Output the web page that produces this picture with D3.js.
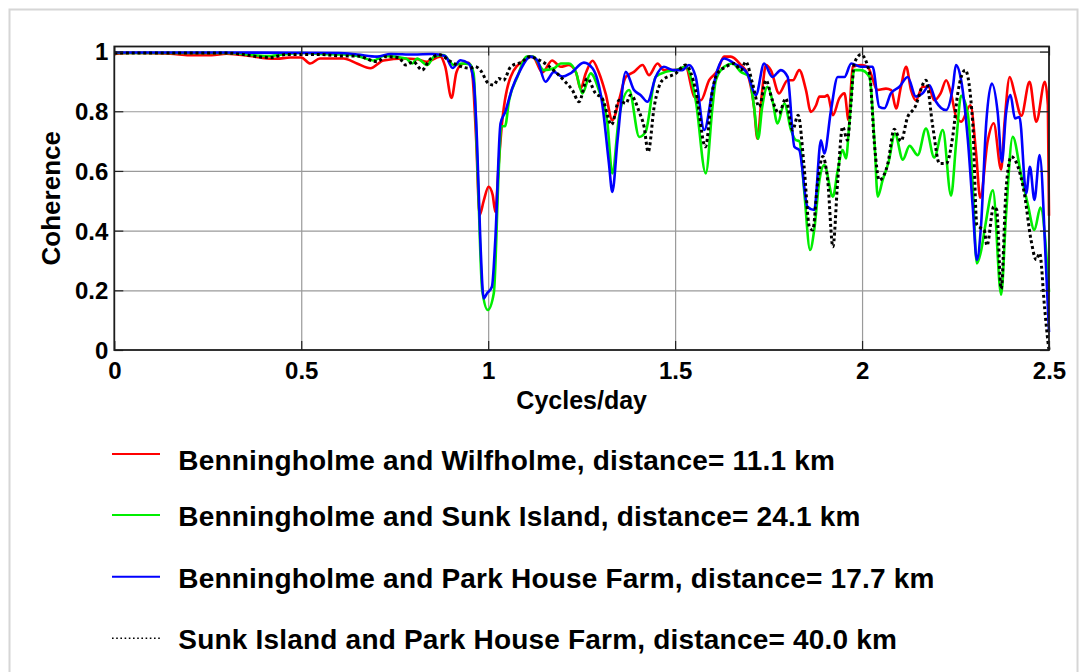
<!DOCTYPE html>
<html>
<head>
<meta charset="utf-8">
<script src="https://cdn.jsdelivr.net/npm/d3@7/dist/d3.min.js"></script>
<style>
  body { margin: 0; background: #fff; }
  svg text { font-family: "Liberation Sans", Arial, Helvetica, sans-serif; font-weight: bold; fill: #000; }
</style>
</head>
<body>
<svg id="chart" width="1087" height="672"></svg>
<script>
// ---- data -------------------------------------------------------------
const xTickValues = [0, 0.5, 1, 1.5, 2, 2.5];
const yTickValues = [0, 0.2, 0.4, 0.6, 0.8, 1];

const seriesLabels = [
  "Benningholme and Wilfholme, distance= 11.1 km",
  "Benningholme and Sunk Island, distance= 24.1 km",
  "Benningholme and Park House Farm, distance= 17.7 km",
  "Sunk Island and Park House Farm, distance= 40.0 km"
];

// Benningholme – Wilfholme
const wilfFreq = [0,0.05,0.15,0.2,0.26,0.3,0.363,0.408,0.435,0.47,0.5,0.524,0.55,0.613,0.649,0.685,0.72,0.774,0.81,0.836,0.872,0.885,0.902,0.915,0.93,0.948,0.957,0.968,0.977,0.988,1.001,1.012,1.019,1.028,1.037,1.06,1.096,1.119,1.145,1.171,1.194,1.216,1.235,1.247,1.261,1.279,1.296,1.314,1.332,1.35,1.368,1.39,1.413,1.43,1.453,1.47,1.502,1.528,1.551,1.569,1.591,1.613,1.631,1.649,1.676,1.693,1.711,1.72,1.733,1.743,1.756,1.778,1.801,1.815,1.832,1.85,1.863,1.877,1.886,1.9,1.908,1.922,1.939,1.953,1.964,1.975,1.997,2.015,2.042,2.064,2.078,2.091,2.104,2.118,2.131,2.144,2.162,2.178,2.193,2.21,2.225,2.238,2.252,2.265,2.29,2.305,2.316,2.336,2.352,2.372,2.381,2.395,2.408,2.426,2.448,2.466,2.489,2.497,2.5];
const wilfCoh  = [0.992,0.995,0.993,0.988,0.988,0.993,0.985,0.977,0.976,0.98,0.98,0.96,0.977,0.977,0.96,0.944,0.97,0.977,0.974,0.966,0.983,0.95,0.845,0.93,0.958,0.962,0.93,0.7,0.452,0.5,0.547,0.52,0.463,0.62,0.759,0.915,0.971,0.983,0.93,0.97,0.949,0.955,0.93,0.876,0.927,0.969,0.93,0.86,0.77,0.837,0.915,0.932,0.955,0.921,0.96,0.938,0.938,0.949,0.849,0.837,0.904,0.935,0.983,0.983,0.955,0.927,0.815,0.708,0.871,0.955,0.938,0.86,0.904,0.904,0.938,0.871,0.798,0.82,0.849,0.849,0.854,0.787,0.843,0.86,0.77,0.949,0.955,0.949,0.871,0.876,0.871,0.809,0.882,0.949,0.871,0.837,0.882,0.882,0.837,0.86,0.904,0.86,0.78,0.765,0.82,0.66,0.51,0.7,0.76,0.605,0.76,0.915,0.86,0.785,0.899,0.765,0.899,0.82,0.45];

// Benningholme – Sunk Island
const sunkFreq = [0,0.3,0.408,0.45,0.5,0.55,0.613,0.65,0.694,0.72,0.78,0.797,0.81,0.837,0.855,0.88,0.908,0.93,0.95,0.961,0.972,0.984,0.999,1.015,1.028,1.035,1.045,1.056,1.078,1.104,1.12,1.149,1.176,1.194,1.216,1.235,1.252,1.274,1.296,1.319,1.332,1.35,1.377,1.404,1.421,1.448,1.475,1.502,1.528,1.555,1.582,1.6,1.609,1.631,1.653,1.676,1.698,1.711,1.722,1.733,1.747,1.76,1.774,1.792,1.81,1.823,1.832,1.845,1.861,1.872,1.886,1.899,1.922,1.935,1.948,1.957,1.966,1.979,1.997,2.02,2.033,2.042,2.055,2.071,2.088,2.109,2.127,2.149,2.171,2.193,2.216,2.238,2.252,2.265,2.283,2.296,2.307,2.318,2.33,2.35,2.372,2.385,2.403,2.425,2.443,2.461,2.477,2.5];
const sunkCoh  = [0.995,0.995,0.985,0.99,0.995,0.992,0.99,0.985,0.97,0.985,0.977,0.96,0.977,0.955,0.983,0.988,0.955,0.96,0.958,0.927,0.592,0.201,0.134,0.19,0.594,0.75,0.75,0.837,0.915,0.983,0.983,0.938,0.944,0.96,0.96,0.93,0.86,0.927,0.871,0.759,0.592,0.781,0.871,0.714,0.731,0.915,0.932,0.938,0.949,0.837,0.592,0.815,0.904,0.949,0.96,0.932,0.915,0.815,0.708,0.815,0.882,0.837,0.759,0.826,0.737,0.703,0.7,0.536,0.335,0.402,0.569,0.62,0.514,0.603,0.67,0.642,0.759,0.938,0.938,0.915,0.703,0.514,0.569,0.63,0.725,0.638,0.684,0.653,0.742,0.645,0.737,0.517,0.7,0.852,0.79,0.55,0.29,0.33,0.42,0.535,0.185,0.45,0.714,0.59,0.49,0.402,0.477,0.195];

// Benningholme – Park House Farm
const parkFreq = [0,0.3,0.6,0.65,0.703,0.74,0.8,0.85,0.885,0.905,0.926,0.948,0.961,0.97,0.979,0.988,0.997,1.01,1.019,1.033,1.046,1.064,1.086,1.113,1.131,1.153,1.176,1.198,1.22,1.256,1.279,1.305,1.323,1.332,1.346,1.368,1.39,1.408,1.426,1.448,1.47,1.493,1.519,1.537,1.555,1.578,1.6,1.613,1.631,1.658,1.693,1.716,1.738,1.76,1.783,1.801,1.819,1.832,1.854,1.872,1.89,1.899,1.917,1.935,1.953,1.971,1.997,2.028,2.046,2.06,2.077,2.1,2.122,2.144,2.162,2.18,2.198,2.225,2.243,2.251,2.265,2.283,2.296,2.307,2.318,2.332,2.347,2.363,2.374,2.385,2.397,2.409,2.421,2.439,2.449,2.461,2.475,2.492,2.5];
const parkCoh  = [0.997,0.997,0.995,0.99,0.983,0.992,0.99,0.992,0.985,0.945,0.971,0.96,0.904,0.703,0.368,0.173,0.19,0.212,0.368,0.759,0.799,0.876,0.938,0.983,0.971,0.899,0.932,0.916,0.927,0.963,0.944,0.826,0.625,0.53,0.703,0.932,0.871,0.854,0.832,0.915,0.949,0.938,0.938,0.955,0.915,0.737,0.871,0.938,0.977,0.96,0.927,0.854,0.96,0.915,0.938,0.915,0.681,0.67,0.48,0.469,0.703,0.659,0.804,0.915,0.915,0.96,0.949,0.949,0.815,0.81,0.86,0.882,0.915,0.849,0.86,0.887,0.832,0.804,0.882,0.955,0.904,0.703,0.48,0.302,0.413,0.759,0.893,0.793,0.63,0.793,0.854,0.776,0.781,0.525,0.614,0.503,0.653,0.279,0.06];

// Sunk Island – Park House Farm
const sunkParkFreq = [0,0.3,0.417,0.46,0.55,0.613,0.65,0.703,0.725,0.76,0.78,0.8,0.823,0.845,0.872,0.895,0.917,0.952,0.965,0.979,1.001,1.015,1.028,1.041,1.06,1.091,1.109,1.131,1.158,1.18,1.202,1.225,1.243,1.265,1.287,1.305,1.33,1.35,1.368,1.381,1.404,1.417,1.428,1.444,1.466,1.502,1.528,1.555,1.581,1.6,1.613,1.636,1.658,1.676,1.689,1.707,1.725,1.743,1.76,1.778,1.796,1.814,1.829,1.845,1.859,1.868,1.881,1.895,1.908,1.922,1.935,1.948,1.961,1.97,1.979,1.997,2.02,2.033,2.046,2.069,2.086,2.104,2.122,2.14,2.171,2.189,2.207,2.225,2.243,2.256,2.276,2.296,2.307,2.316,2.327,2.334,2.352,2.36,2.372,2.385,2.399,2.417,2.434,2.452,2.466,2.475,2.488,2.497,2.5];
const sunkParkCoh  = [0.995,0.995,0.98,0.99,0.99,0.985,0.985,0.966,0.983,0.98,0.955,0.966,0.938,0.975,0.989,0.97,0.955,0.944,0.95,0.938,0.893,0.888,0.91,0.904,0.949,0.966,0.983,0.975,0.955,0.932,0.904,0.871,0.832,0.91,0.86,0.843,0.755,0.837,0.826,0.854,0.798,0.748,0.664,0.815,0.904,0.927,0.955,0.871,0.681,0.871,0.927,0.949,0.96,0.938,0.966,0.893,0.815,0.904,0.837,0.793,0.843,0.737,0.787,0.614,0.413,0.402,0.558,0.648,0.569,0.346,0.569,0.748,0.703,0.82,0.96,0.99,0.927,0.692,0.569,0.625,0.74,0.7,0.781,0.81,0.904,0.75,0.625,0.625,0.72,0.86,0.938,0.76,0.42,0.41,0.4,0.35,0.48,0.47,0.205,0.536,0.648,0.614,0.525,0.368,0.302,0.324,0.145,0.03,0.0];

const seriesFreq = [wilfFreq, sunkFreq, parkFreq, sunkParkFreq];
const seriesCoh  = [wilfCoh, sunkCoh, parkCoh, sunkParkCoh];

// ---- styling ----------------------------------------------------------
const lineStyles = [
  { color: "#ff0000", dash: null },
  { color: "#00ee00", dash: null },
  { color: "#0000ff", dash: null },
  { color: "#000000", dash: "3,2.8" }
];

// ---- layout -----------------------------------------------------------
const svg = d3.select("#chart");
const plot = { left: 114.3, right: 1049, top: 46.5, bottom: 350 };

// outer frame
svg.append("rect")
  .attr("x", 9.5).attr("y", 9.5)
  .attr("width", 1068).attr("height", 720)
  .attr("fill", "#fff").attr("stroke", "#d6d6d6").attr("stroke-width", 2);

const x = d3.scaleLinear().domain([0, 2.5]).range([plot.left, plot.right]);
const y = d3.scaleLinear().domain([0, 1.017]).range([plot.bottom, plot.top]);

// grid lines
const grid = svg.append("g");
grid.append("g")
  .attr("transform", `translate(0,${plot.bottom})`)
  .call(d3.axisBottom(x).tickValues(xTickValues.slice(1, -1)).tickSize(-(plot.bottom - plot.top)).tickFormat(""))
  .call(g => g.select(".domain").remove())
  .call(g => g.selectAll("line").attr("stroke", "#9a9a9a").attr("stroke-width", 1.2));
grid.append("g")
  .attr("transform", `translate(${plot.left},0)`)
  .call(d3.axisLeft(y).tickValues(yTickValues.slice(1)).tickSize(-(plot.right - plot.left)).tickFormat(""))
  .call(g => g.select(".domain").remove())
  .call(g => g.selectAll("line").attr("stroke", "#9a9a9a").attr("stroke-width", 1.2));

// curves
const line = d3.line()
  .x(d => x(d[0]))
  .y(d => y(d[1]))
  .curve(d3.curveMonotoneX);

const curves = svg.append("g");
seriesFreq.forEach((freqs, i) => {
  const pts = freqs.map((f, j) => [f, seriesCoh[i][j]]);
  const st = lineStyles[i];
  curves.append("path")
    .datum(pts)
    .attr("d", line)
    .attr("fill", "none")
    .attr("stroke", st.color)
    .attr("stroke-width", st.dash ? 3 : 2.6)
    .attr("stroke-linejoin", "round")
    .attr("stroke-dasharray", st.dash);
});

// axes with inward ticks
const tickLen = 9;
const fmt = d3.format("~g");
const axB = svg.append("g").attr("transform", `translate(0,${plot.bottom})`)
  .call(d3.axisBottom(x).tickValues(xTickValues).tickSize(-tickLen).tickPadding(13).tickFormat(fmt));
const axT = svg.append("g").attr("transform", `translate(0,${plot.top})`)
  .call(d3.axisTop(x).tickValues(xTickValues).tickSize(-tickLen).tickFormat(""));
const axL = svg.append("g").attr("transform", `translate(${plot.left},0)`)
  .call(d3.axisLeft(y).tickValues(yTickValues).tickSize(-tickLen).tickPadding(6).tickFormat(fmt));
const axR = svg.append("g").attr("transform", `translate(${plot.right},0)`)
  .call(d3.axisRight(y).tickValues(yTickValues).tickSize(-tickLen).tickFormat(""));

[axB, axT, axL, axR].forEach(a => {
  a.select(".domain").remove();
  a.selectAll("line").attr("stroke", "#222").attr("stroke-width", 1.2);
  a.selectAll("text").style("font-size", "24px").attr("fill", "#000");
});
axB.selectAll("text").attr("y", 12).attr("dy", "0.72em");
axL.selectAll("text").attr("x", -6).attr("dy", "0.35em");

// axes box
svg.append("rect")
  .attr("x", plot.left).attr("y", plot.top)
  .attr("width", plot.right - plot.left).attr("height", plot.bottom - plot.top)
  .attr("fill", "none").attr("stroke", "#1c1c1c").attr("stroke-width", 1.8);

// axis titles
svg.append("text")
  .attr("x", (plot.left + plot.right) / 2)
  .attr("y", 409)
  .attr("text-anchor", "middle")
  .style("font-size", "25px")
  .text("Cycles/day");

svg.append("text")
  .attr("transform", `translate(60,${(plot.top + plot.bottom) / 2}) rotate(-90)`)
  .attr("text-anchor", "middle")
  .style("font-size", "26px")
  .text("Coherence");

// legend
const legendRowY = [454, 515, 576.7, 638.3];
const legendTextOffset = [16, 11, 11, 11];
const legend = svg.append("g");
seriesLabels.forEach((label, i) => {
  const st = lineStyles[i];
  legend.append("line")
    .attr("x1", 112).attr("x2", 160)
    .attr("y1", legendRowY[i]).attr("y2", legendRowY[i])
    .attr("stroke", st.color)
    .attr("stroke-width", st.dash ? 1.6 : 2)
    .attr("stroke-dasharray", st.dash ? "1.6,2.6" : null);
  legend.append("text")
    .attr("x", 178.3)
    .attr("y", legendRowY[i] + legendTextOffset[i])
    .style("font-size", "28px")
    .style("letter-spacing", "0.2px")
    .text(label);
});
</script>
</body>
</html>
